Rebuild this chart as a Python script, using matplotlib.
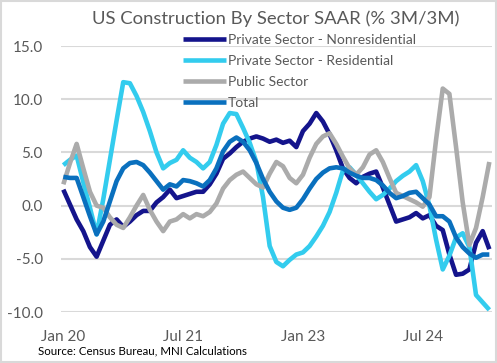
import numpy as np
import pandas as pd
import matplotlib
matplotlib.use("Agg")
import matplotlib.pyplot as plt
from matplotlib.patches import Rectangle
from matplotlib.ticker import FuncFormatter

# ---------------- data (monthly, Jan 2020 onward) ----------------
series_names = ["Private Sector - Nonresidential", "Private Sector - Residential",
                "Public Sector", "Total"]

nonresidential = [1.5, 0.1, -1.3, -2.4, -3.9, -4.8, -3.3, -1.8, -1.3, -2.0,
                  -1.5, -0.9, -0.5, -0.5, 0.3, 0.8, 1.5, 0.7, 0.9, 1.1,
                  1.3, 1.3, 2.0, 3.0, 4.4, 4.9, 5.5, 6.0, 6.3, 6.5,
                  6.3, 6.0, 6.2, 5.9, 6.1, 5.5, 7.0, 7.7, 8.7, 7.9,
                  6.7, 5.2, 3.5, 2.6, 2.1, 2.7, 3.0, 3.2, 1.7, 0.1,
                  -1.5, -1.3, -1.1, -0.7, -1.2, -0.9, -1.9, -2.3, -4.6, -6.5,
                  -6.4, -6.0, -3.5, -2.4, -4.1]

residential = [3.8, 4.3, 4.7, 2.2, -0.2, -2.7, 0.6, 4.3, 8.0, 11.6,
               11.5, 10.3, 8.8, 7.0, 5.0, 3.5, 4.0, 4.3, 5.2, 4.5,
               4.1, 3.5, 4.1, 5.7, 7.7, 8.7, 8.6, 7.3, 5.9, 4.1,
               0.8, -3.8, -5.3, -5.7, -5.1, -4.6, -4.4, -3.8, -2.9, -1.9,
               -0.6, 1.2, 3.3, 3.6, 2.9, 2.1, 1.3, 0.6, 1.0, 1.6,
               2.3, 2.8, 3.2, 3.8, 2.3, 0.0, -3.2, -6.0, -4.7, -3.0,
               -2.6, -3.9, -8.4, -9.1, -9.8]

public = [2.0, 4.0, 5.8, 3.5, 1.3, 0.0, -0.2, -1.1, -1.8, -2.1,
          -1.1, 0.0, 1.0, -0.4, -1.5, -2.4, -1.5, -1.3, -0.8, -1.2,
          -0.8, -1.0, -0.6, 0.2, 1.6, 2.4, 2.9, 3.2, 2.6, 2.0,
          1.7, 3.0, 4.1, 3.7, 2.6, 2.1, 2.9, 4.5, 5.8, 6.5,
          6.8, 5.8, 4.6, 3.5, 2.9, 3.6, 4.8, 5.2, 4.1, 2.6,
          1.2, 0.9, 0.6, 0.3, -0.1, 0.8, 6.2, 11.0, 10.5, 5.5,
          0.3, -3.7, -2.1, 0.8, 4.1]

total = [2.7, 2.6, 2.6, 0.8, -1.0, -2.7, -1.5, 0.4, 2.3, 3.5,
         4.0, 4.1, 3.8, 3.1, 2.3, 1.5, 2.0, 1.8, 2.4, 2.3,
         2.1, 1.8, 2.4, 3.5, 5.1, 6.0, 6.4, 6.0, 5.2, 4.0,
         2.5, 1.3, 0.4, -0.2, -0.4, -0.2, 0.6, 1.6, 2.5, 3.1,
         3.5, 3.6, 3.5, 3.1, 2.8, 2.6, 2.6, 2.4, 1.9, 1.2,
         0.7, 0.9, 1.2, 1.3, 0.7, 0.1, -1.0, -1.0, -1.5, -3.0,
         -3.9, -4.5, -4.9, -4.6, -4.6]

start_month = "2020-01-01"
y_ticks = [-10, -5, 0, 5, 10, 15]
title_text = "US Construction By Sector SAAR (% 3M/3M)"
source_text = "Source: Census Bureau, MNI Calculations"

# ---------------- styling ----------------
colors = ["#14148C", "#33CCEE", "#ABABAB", "#0A70BE"]
text_color = "#595959"
grid_color = "#D9D9D9"
font = ["Lato", "DejaVu Sans"]
plt.rcParams["font.family"] = font

n = len(total)
x = np.arange(n)
dates = pd.date_range(start_month, periods=n, freq="MS")
tick_idx = list(range(0, n, 18))
tick_labels = [dates[i].strftime("%b %y") for i in tick_idx]

W, H = 497, 363
fig = plt.figure(figsize=(W / 100, H / 100), dpi=100)
ax = fig.add_axes([61 / W, 1 - 312 / H, (492 - 61) / W, (312 - 46) / H])

for vals, name, c in zip([nonresidential, residential, public, total], series_names, colors):
    ax.plot(x, vals, color=c, lw=3.3, label=name, solid_joinstyle="round",
            solid_capstyle="butt")

ax.set_xlim(-0.35, n - 1 + 0.4)
ax.set_ylim(min(y_ticks), max(y_ticks))
ax.set_yticks(y_ticks)
ax.yaxis.set_major_formatter(FuncFormatter(lambda v, p: f"{v:.1f}"))
ax.set_xticks(tick_idx)
ax.set_xticklabels(tick_labels)
ax.tick_params(axis="both", length=0, labelsize=11, labelcolor=text_color)
ax.tick_params(axis="y", pad=13)
ax.tick_params(axis="x", pad=13)
ax.grid(axis="y", color=grid_color, lw=1.5)
ax.set_axisbelow(True)
for s in ax.spines.values():
    s.set_visible(False)

fig.text(276 / W, 1 - 19 / H, title_text, ha="center", va="center",
         fontsize=13.3, color=text_color)
fig.text(38 / W, 1 - 351 / H, source_text, ha="left", va="center",
         fontsize=8.3, color="black")

leg = ax.legend(loc="upper left", bbox_to_anchor=(183 / W, 1 - 33.5 / H),
                bbox_transform=fig.transFigure, frameon=False, fontsize=10,
                handlelength=3.1, handletextpad=0.15, labelspacing=0.66,
                borderpad=0, borderaxespad=0)
for t in leg.get_texts():
    t.set_color(text_color)

fig.patches.append(Rectangle((0.002, 0.003), 0.996, 0.994, transform=fig.transFigure,
                             fill=False, edgecolor="#D9D9D9", lw=1.5))

fig.savefig("out.png", dpi=100)
